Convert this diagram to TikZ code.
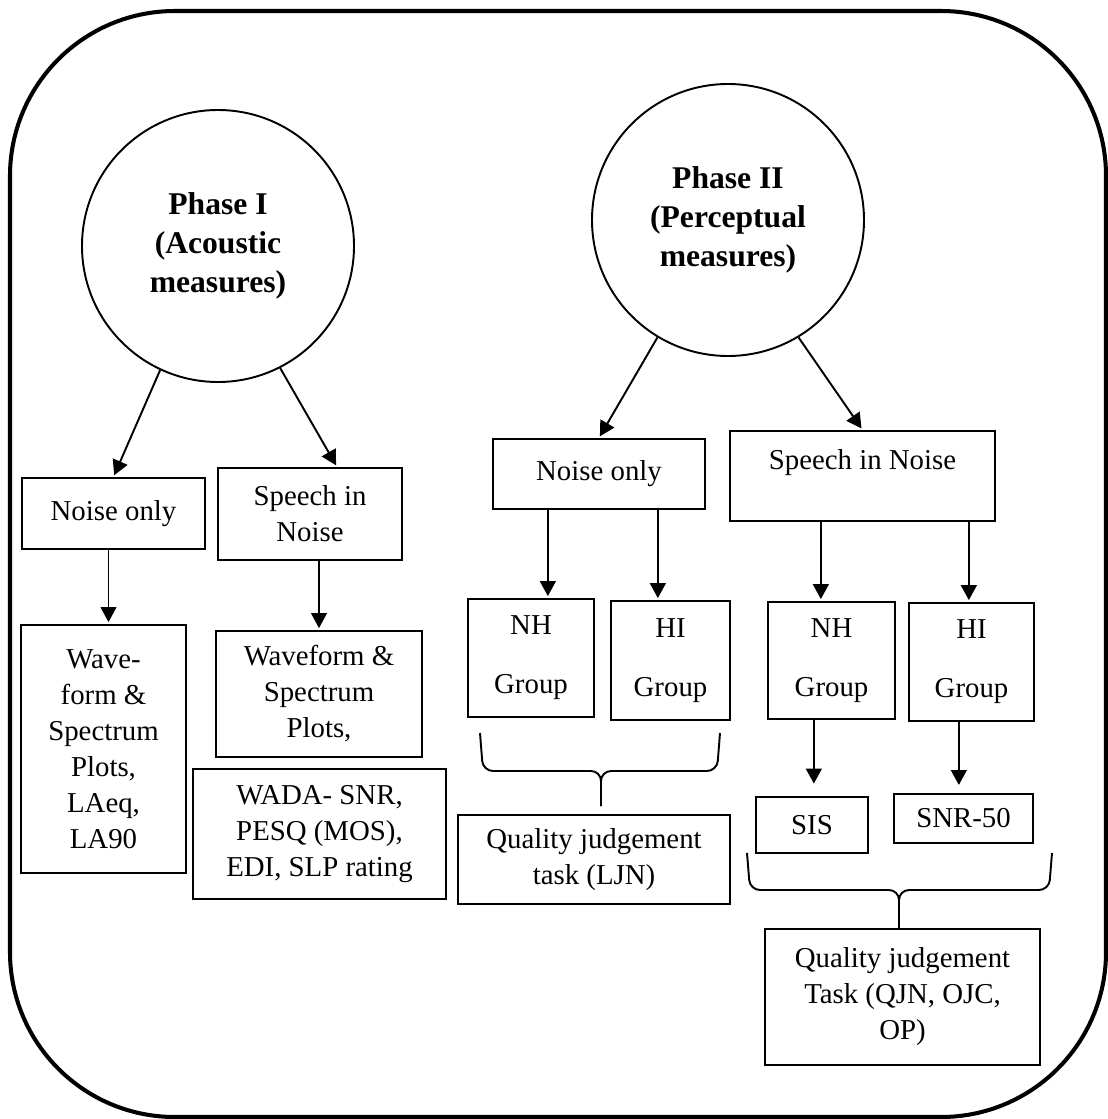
\documentclass[tikz,border=0pt]{standalone}
\usepackage{fontspec}
\setmainfont{Liberation Serif}
\usetikzlibrary{arrows.meta, calc}
\tikzset{x=0.02cm, y=-0.02cm,
  box/.style={draw, line width=1.3pt, align=center, inner sep=0pt, font=\fontsize{16.4}{20.5}\selectfont},
  sz/.style 2 args={minimum width=#1*0.02cm, minimum height=#2*0.02cm},
  phase/.style={circle, draw, line width=1.1pt, minimum size=272*0.02cm, align=center, inner sep=0pt, font=\fontsize{18}{22.4}\selectfont\bfseries},
  arr/.style={-{Triangle[length=8.5pt, width=9pt]}, line width=1.1pt, shorten >=1pt},
  thinarr/.style={arr, line width=0.6pt},
  bracket/.style={line width=1.1pt, rounded corners=0.2cm}}

\begin{document}
\begin{tikzpicture}
	\useasboundingbox (0,0) rectangle (1108,1119);
	\draw[line width=2.3pt, rounded corners=3.3cm] (10,11) rectangle (1106,1117);

	% phases
	\node[phase] (phaseI) at (218,246) {Phase I\\(Acoustic\\measures)};
	\node[phase] (phaseII) at (728,220) {Phase II\\(Perceptual\\measures)};

	% acoustic side
	\node[box, sz={183}{71}] (noiseL) at (113.5,513.5) {Noise only};
	\node[box, sz={184}{92}] (speechL) at (310,514) {Speech in\\Noise};
	\node[box, sz={165}{248}] (waveL) at (103.5,749) {Wave-\\form \&\\Spectrum\\Plots,\\LAeq,\\LA90};
	\node[box, sz={206}{126}] (waveS) at (319,694) {Waveform \&\\Spectrum\\Plots,};
	\node[box, sz={253}{130}] (wada) at (319.5,834) {WADA- SNR,\\PESQ (MOS),\\EDI, SLP rating};

	% perceptual side
	\node[box, sz={212}{70}] (noiseR) at (599,474) {Noise only};
	\node[box, sz={265}{90}, text depth=19pt] (speechR) at (862.5,476) {Speech in Noise};
	\node[box, sz={126}{118}] (nhA) at (531,658) {NH\\[13pt]Group};
	\node[box, sz={119}{119}] (hiA) at (670.5,660.5) {HI\\[13pt]Group};
	\node[box, sz={127}{117}] (nhB) at (831.5,660.5) {NH\\[13pt]Group};
	\node[box, sz={125}{118}] (hiB) at (971.5,662) {HI\\[13pt]Group};
	\node[box, sz={272}{89}] (ljn) at (594,859.5) {Quality judgement\\task (LJN)};
	\node[box, sz={112}{56}] (sis) at (812,825) {SIS};
	\node[box, sz={139}{49}] (snr) at (963.5,818.5) {SNR-50};
	\node[box, sz={275}{136}] (qjn) at (902.5,997) {Quality judgement\\Task (QJN, OJC,\\OP)};

	\coordinate (nL) at ($(noiseL.south)+(-5,0)$);
	\coordinate (nR1) at ($(noiseR.south west)+(56,0)$);
	\coordinate (nR2) at ($(noiseR.south west)+(166,0)$);
	\coordinate (sR1) at ($(speechR.south west)+(92,0)$);
	\coordinate (sR2) at ($(speechR.south west)+(240,0)$);
	\coordinate (nB) at ($(nhB.south west)+(47,0)$);
	\coordinate (hB) at ($(hiB.south west)+(51,0)$);

	\draw[arr] (phaseI.245) -- (noiseL.north);
	\draw[arr] (phaseI.297) -- ($(speechL.north)+(27,0)$);
	\draw[thinarr] (nL) -- (nL |- waveL.north);
	\draw[thinarr] (speechL.south -| waveS.north) -- (waveS.north);
	\draw[arr] (phaseII.239) -- (noiseR.north);
	\draw[arr] (phaseII.301) -- (speechR.north);
	\draw[arr] (nR1) -- (nR1 |- nhA.north);
	\draw[arr] (nR2) -- (nR2 |- hiA.north);
	\draw[arr] (sR1) -- (sR1 |- nhB.north);
	\draw[arr] (sR2) -- (sR2 |- hiB.north);
	\draw[arr, shorten >=7pt] (nB) -- (nB |- sis.north);
	\draw[arr, shorten >=4.5pt] (hB) -- (hB |- snr.north);

	% braces
	\draw[bracket] (480,733) -- (483,771) -- (601,771) -- (601,806);
	\draw[bracket] (720,733) -- (717,771) -- (601,771) -- (601,806);
	\draw[bracket] (747,853) -- (750,890) -- (899,890) -- (899,928);
	\draw[bracket] (1052,853) -- (1049,890) -- (899,890) -- (899,928);
\end{tikzpicture}
\end{document}
